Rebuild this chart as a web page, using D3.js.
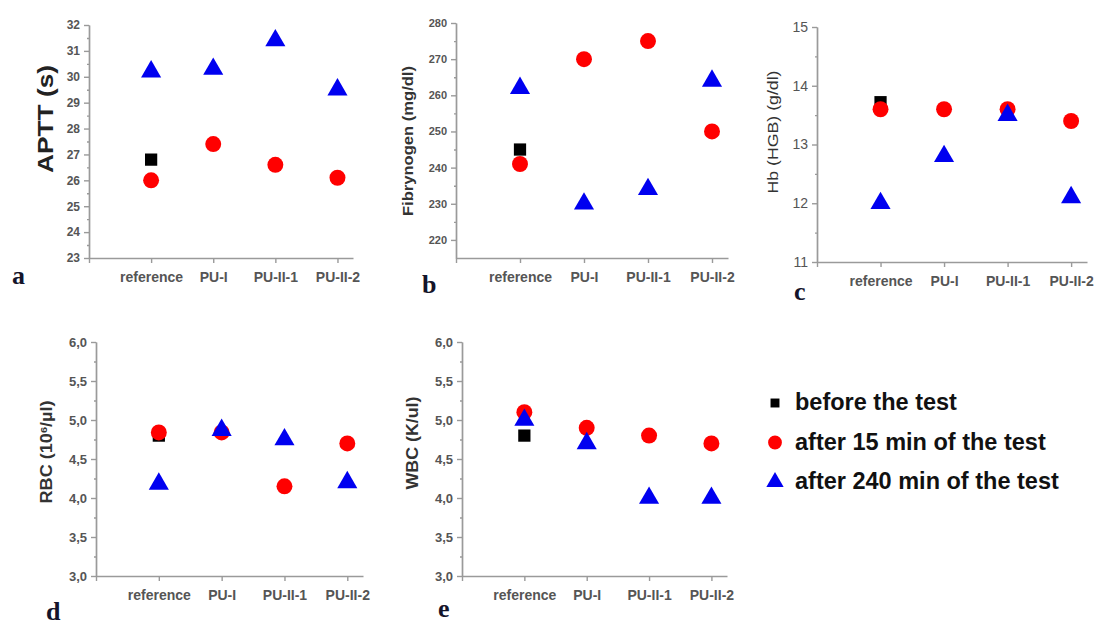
<!DOCTYPE html>
<html>
<head>
<meta charset="utf-8">
<script src="https://cdn.jsdelivr.net/npm/d3@7"></script>
<style>
  body { margin: 0; background: #fff; }
  svg { display: block; }
</style>
</head>
<body>
<div id="chart"></div>
<script>
// categories shared by all five panels
var categories = ["reference", "PU-I", "PU-II-1", "PU-II-2"];

// a - APTT (s)
var apttBefore = [26.8, null, null, null];
var apttAfter15 = [26.0, 27.4, 26.6, 26.1];
var apttAfter240 = [30.2, 30.3, 31.4, 29.5];
var apttTicks = [23, 24, 25, 26, 27, 28, 29, 30, 31, 32];

// b - Fibrynogen (mg/dl)
var fibBefore = [245, null, null, null];
var fibAfter15 = [241, 270, 275, 250];
var fibAfter240 = [262, 230, 234, 264];
var fibTicks = [220, 230, 240, 250, 260, 270, 280];

// c - Hb (HGB) (g/dl)
var hbBefore = [13.72, null, null, null];
var hbAfter15 = [13.6, 13.6, 13.6, 13.4];
var hbAfter240 = [12.0, 12.8, 13.5, 12.1];
var hbTicks = [11, 12, 13, 14, 15];

// d - RBC
var rbcBefore = [4.8, null, null, null];
var rbcAfter15 = [4.84, 4.84, 4.15, 4.7];
var rbcAfter240 = [4.18, 4.87, 4.75, 4.2];
var rbcTicks = [3.0, 3.5, 4.0, 4.5, 5.0, 5.5, 6.0];

// e - WBC (K/ul)
var wbcBefore = [4.8, null, null, null];
var wbcAfter15 = [5.1, 4.9, 4.8, 4.7];
var wbcAfter240 = [5.0, 4.7, 4.0, 4.0];
var wbcTicks = [3.0, 3.5, 4.0, 4.5, 5.0, 5.5, 6.0];

var legendLabels = ["before the test", "after 15 min of the test", "after 240 min of the test"];

var svg = d3.select("#chart")
  .append("svg")
  .attr("width", 1096)
  .attr("height", 628);

var comma = function(d) { return d3.format(".1f")(d).replace(".", ","); };

var seriesStyle = [
  {type: d3.symbolSquare, size: 150, color: "#000000"},
  {type: d3.symbolCircle, size: 200, color: "#ff0000"},
  {type: d3.symbolTriangle, size: 175, color: "#0000f0"}
];

function drawPanel(p) {
  var g = svg.append("g");

  var x = d3.scaleLinear().domain([-1, 3.25]).range([p.left, p.right]);
  var y = d3.scaleLinear().domain(p.domain).range([p.bottom, p.top]);

  // minor ticks halfway between majors
  var minor = [];
  for (var i = 0; i < p.ticks.length - 1; i++) minor.push((p.ticks[i] + p.ticks[i + 1]) / 2);

  var yAxis = d3.axisLeft(y).tickValues(p.ticks).tickFormat(p.fmt).tickSize(5).tickSizeOuter(0).tickPadding(4);
  var yMinor = d3.axisLeft(y).tickValues(minor).tickFormat("").tickSize(2).tickSizeOuter(0);
  var xAxis = d3.axisBottom(x).tickValues([-1, 0, 1, 2, 3])
    .tickFormat(function(d) { return d < 0 ? "" : categories[d]; })
    .tickSize(5).tickSizeOuter(0).tickPadding(9);

  var yg = g.append("g").attr("transform", "translate(" + p.left + ",0)").call(yAxis);
  g.append("g").attr("transform", "translate(" + p.left + ",0)").call(yMinor);
  var xg = g.append("g").attr("transform", "translate(0," + p.bottom + ")").call(xAxis);

  g.selectAll(".domain, .tick line").attr("stroke", "#9a9a9a").attr("stroke-width", 1.4);
  yg.selectAll("text")
    .attr("font-family", "Liberation Sans, Arial, sans-serif")
    .attr("font-size", p.tickFont)
    .attr("font-weight", p.tickWeight)
    .attr("fill", "#555");
  xg.selectAll("text")
    .attr("font-family", "Liberation Sans, Arial, sans-serif")
    .attr("font-size", 14)
    .attr("font-weight", "bold")
    .attr("fill", "#555");

  // y axis title
  var t = g.append("text")
    .attr("transform", "translate(" + p.labelX + "," + p.labelY + ") rotate(-90)")
    .attr("text-anchor", "middle")
    .attr("dy", "0.35em")
    .attr("font-family", "Liberation Sans, Arial, sans-serif")
    .attr("font-size", p.labelFont)
    .attr("font-weight", p.labelWeight)
    .attr("fill", p.labelColor)
    .attr("textLength", p.labelLen)
    .attr("lengthAdjust", "spacingAndGlyphs");
  if (p.sup) {
    t.append("tspan").text(p.label[0]);
    t.append("tspan").attr("baseline-shift", "super").attr("font-size", p.labelFont * 0.6).text(p.sup);
    t.append("tspan").text(p.label[1]);
  } else {
    t.text(p.label);
  }

  // points, drawn square -> circle -> triangle
  p.series.forEach(function(vals, si) {
    var st = seriesStyle[si];
    var pts = vals.map(function(v, i) { return {i: i, v: v}; }).filter(function(d) { return d.v !== null; });
    g.selectAll(".s" + si)
      .data(pts)
      .enter()
      .append("path")
      .attr("d", d3.symbol().type(st.type).size(st.size))
      .attr("transform", function(d) { return "translate(" + x(d.i) + "," + y(d.v) + ")"; })
      .attr("fill", st.color);
  });

  // panel letter
  g.append("text")
    .attr("x", p.letterX)
    .attr("y", p.letterY)
    .attr("font-family", "Liberation Serif, Times New Roman, serif")
    .attr("font-weight", "bold")
    .attr("font-size", 26)
    .attr("fill", "#14142a")
    .text(p.letter);
}

drawPanel({
  left: 89, right: 353, top: 25, bottom: 258, domain: [23, 32], ticks: apttTicks,
  fmt: d3.format("d"), tickFont: 12, tickWeight: "bold",
  series: [apttBefore, apttAfter15, apttAfter240],
  label: "APTT (s)", labelX: 45, labelY: 119, labelFont: 22, labelWeight: "bold", labelColor: "#222", labelLen: 108,
  letter: "a", letterX: 12, letterY: 284
});

drawPanel({
  left: 456, right: 728, top: 23, bottom: 258, domain: [215, 280], ticks: fibTicks,
  fmt: d3.format("d"), tickFont: 11, tickWeight: "bold",
  series: [fibBefore, fibAfter15, fibAfter240],
  label: "Fibrynogen (mg/dl)", labelX: 408, labelY: 141, labelFont: 15, labelWeight: "bold", labelColor: "#333", labelLen: 150,
  letter: "b", letterX: 422, letterY: 293
});

drawPanel({
  left: 817, right: 1087, top: 27, bottom: 262, domain: [11, 15], ticks: hbTicks,
  fmt: d3.format("d"), tickFont: 14, tickWeight: "normal",
  series: [hbBefore, hbAfter15, hbAfter240],
  label: "Hb (HGB) (g/dl)", labelX: 773, labelY: 132, labelFont: 15, labelWeight: "normal", labelColor: "#333", labelLen: 123,
  letter: "c", letterX: 794, letterY: 300
});

drawPanel({
  left: 96, right: 363, top: 342, bottom: 576, domain: [3, 6], ticks: rbcTicks,
  fmt: comma, tickFont: 13, tickWeight: "bold",
  series: [rbcBefore, rbcAfter15, rbcAfter240],
  label: ["RBC (10", "/µl)"], sup: "6", labelX: 46, labelY: 452, labelFont: 16, labelWeight: "bold", labelColor: "#333", labelLen: 103,
  letter: "d", letterX: 46, letterY: 620
});

drawPanel({
  left: 462, right: 727, top: 342, bottom: 576, domain: [3, 6], ticks: wbcTicks,
  fmt: comma, tickFont: 13, tickWeight: "bold",
  series: [wbcBefore, wbcAfter15, wbcAfter240],
  label: "WBC (K/ul)", labelX: 412, labelY: 443, labelFont: 16, labelWeight: "bold", labelColor: "#333", labelLen: 93,
  letter: "e", letterX: 438, letterY: 617
});

// legend
var legend = svg.append("g").attr("transform", "translate(775,403)");
var legendSizes = [80, 150, 130];
legendLabels.forEach(function(txt, i) {
  legend.append("path")
    .attr("d", d3.symbol().type(seriesStyle[i].type).size(legendSizes[i]))
    .attr("transform", "translate(0," + (i * 39.5) + ")")
    .attr("fill", seriesStyle[i].color);
  legend.append("text")
    .attr("x", 20)
    .attr("y", i * 39.5 + 7)
    .attr("font-family", "Liberation Sans, Arial, sans-serif")
    .attr("font-weight", "bold")
    .attr("font-size", 23.5)
    .attr("fill", "#111")
    .text(txt);
});
</script>
</body>
</html>
